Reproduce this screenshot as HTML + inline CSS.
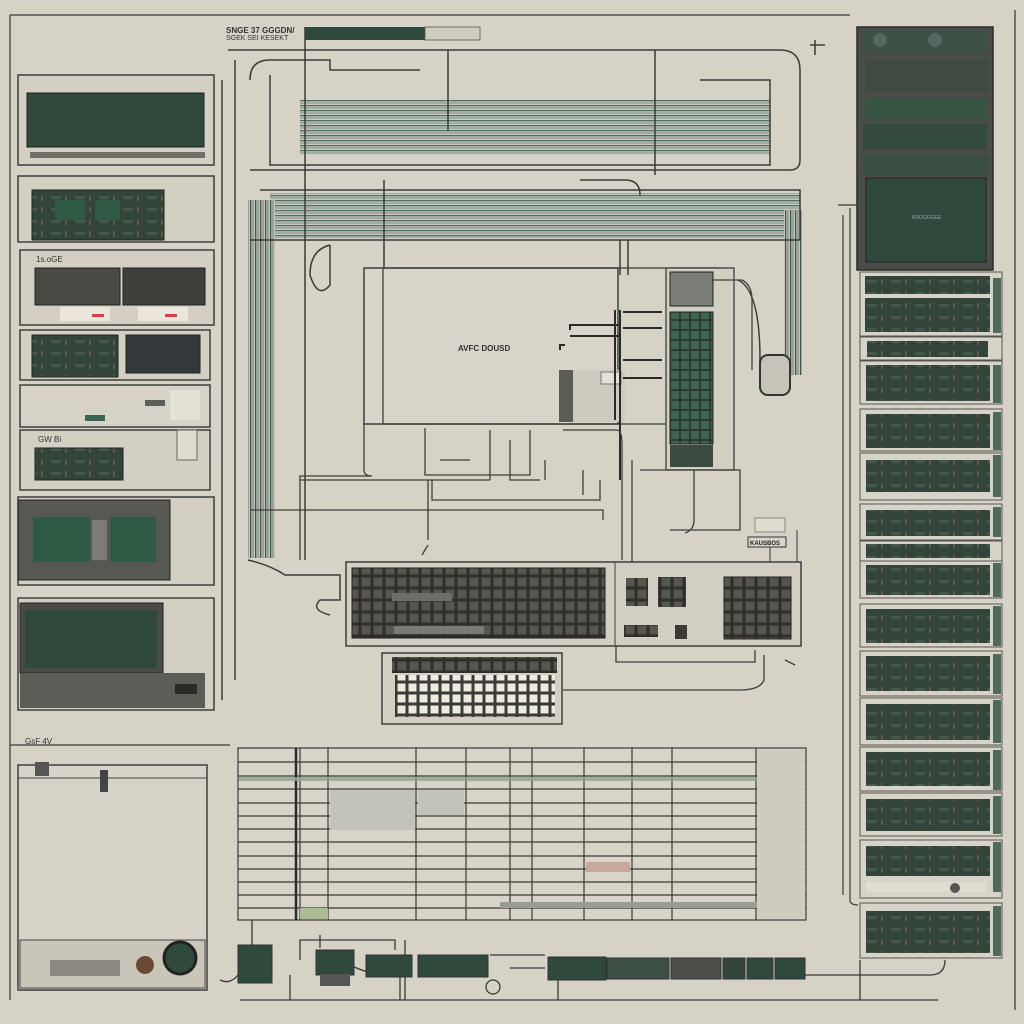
<!DOCTYPE html>
<html><head><style>
html,body{margin:0;padding:0;background:#d6d2c6;}
svg{display:block}
text{font-family:"Liberation Sans",sans-serif;}
</style></head><body>
<svg width="1024" height="1024" viewBox="0 0 1024 1024" xmlns="http://www.w3.org/2000/svg">
<defs>
<pattern id="keys" width="12" height="12" patternUnits="userSpaceOnUse"><rect width="12" height="12" fill="#2e2f2b"/><rect x="1.5" y="1.5" width="9" height="9" fill="#56564f"/></pattern>
<pattern id="keysw" width="11" height="11" patternUnits="userSpaceOnUse"><rect width="11" height="11" fill="#3a3a36"/><rect x="1.5" y="1.5" width="8" height="8" fill="#eeeae0"/></pattern>
<pattern id="gk" width="10" height="10" patternUnits="userSpaceOnUse"><rect width="10" height="10" fill="#2d3a32"/><rect x="1" y="1" width="8" height="8" fill="#3f6550"/></pattern>
<pattern id="stripes" width="6" height="5" patternUnits="userSpaceOnUse"><rect width="6" height="5" fill="#c9cbbf"/><rect y="0" width="6" height="1.3" fill="#4f6f62"/><rect y="2.5" width="6" height="1" fill="#7d8b83"/></pattern>
<pattern id="vstripes" width="5" height="6" patternUnits="userSpaceOnUse"><rect width="5" height="6" fill="#c5c7bb"/><rect x="0" width="1.3" height="6" fill="#3f5549"/><rect x="2.5" width="1" height="6" fill="#6c7c72"/></pattern>
<pattern id="circ" width="24" height="12" patternUnits="userSpaceOnUse"><rect width="24" height="12" fill="#33453b"/><rect x="3" y="4" width="10" height="3" fill="#46584d"/><rect x="17" y="3" width="2" height="6" fill="#5e5544"/></pattern>
</defs>

<path d="M10 15 H850 M10 15 V1000 M1015 10 V1010 M10 745 H230" stroke="#55554f" stroke-width="1.5" fill="none"/>

<text x="226" y="33" font-size="8" fill="#333" font-weight="bold">SNGE 37 GGGDN/</text>
<text x="226" y="40" font-size="7" fill="#333">SGEK SEI KESEKT</text>
<rect x="305" y="27" width="120" height="13" fill="#2f4a3c"/>
<rect x="425" y="27" width="55" height="13" fill="#d0ccbf" stroke="#555" stroke-width="0.8"/>

<rect x="300" y="100" width="470" height="55" fill="url(#stripes)"/>
<rect x="270" y="193" width="530" height="45" fill="url(#stripes)"/>
<rect x="248" y="200" width="27" height="358" fill="url(#vstripes)"/>
<rect x="784" y="210" width="18" height="165" fill="url(#vstripes)"/>
<g stroke="#3b3b37" stroke-width="1.5" fill="none">
<path d="M228 50 H780 Q800 50 800 70 V160 Q800 170 790 170 H250"/>
<path d="M235 60 V680 M222 80 V700"/>
<path d="M250 80 Q250 60 270 60 H330 V70 H420"/>
<path d="M270 75 V165 H770 V80 H700"/>
<path d="M305 27 V560 M448 50 V130 M655 50 V175 M384 180 V270"/>
<path d="M260 190 H800 V240 H250"/>
<path d="M330 245 Q310 250 310 275 Q318 300 330 285 V245"/>
<path d="M620 240 V275 M628 240 V275"/>
<path d="M580 180 H625 Q640 180 640 195"/>
<path d="M738 280 Q760 290 760 360 V380 Q780 400 790 380 V360"/>
<path d="M248 560 Q270 565 285 575 H340 V600 H320 Q310 610 330 615"/>
<path d="M810 45 H825 M815 40 V55"/>
</g>

<rect x="18" y="75" width="196" height="90" fill="#d3cfc3" stroke="#3e3e3a" stroke-width="1.5"/>
<rect x="27" y="93" width="177" height="54" fill="#2f4a3c" stroke="#222" stroke-width="1"/>
<rect x="30" y="152" width="175" height="6" fill="#6e6e66"/>

<rect x="18" y="176" width="196" height="66" fill="#d3cfc3" stroke="#3e3e3a" stroke-width="1.5"/>
<rect x="32" y="190" width="132" height="50" fill="url(#circ)" stroke="#222"/>
<rect x="55" y="200" width="30" height="20" fill="#2f5a44"/><rect x="95" y="200" width="25" height="20" fill="#2f5a44"/>

<rect x="20" y="250" width="194" height="75" fill="#d3cfc3" stroke="#3e3e3a" stroke-width="1.5"/>
<rect x="35" y="268" width="85" height="37" fill="#4a4a44" stroke="#222"/>
<rect x="123" y="268" width="82" height="37" fill="#3e403b" stroke="#222"/>
<rect x="60" y="307" width="50" height="14" fill="#ebe6db"/><rect x="138" y="307" width="50" height="14" fill="#ebe6db"/>
<rect x="92" y="314" width="12" height="3" fill="#c44"/><rect x="165" y="314" width="12" height="3" fill="#c44"/>
<text x="36" y="262" font-size="8" fill="#333">1s.oGE</text>

<rect x="20" y="330" width="190" height="50" fill="#d3cfc3" stroke="#3e3e3a" stroke-width="1.5"/>
<rect x="32" y="335" width="86" height="42" fill="url(#circ)" stroke="#222"/>
<rect x="126" y="335" width="74" height="38" fill="#33393a" stroke="#222"/>

<rect x="20" y="385" width="190" height="42" fill="#d7d3c8" stroke="#3e3e3a" stroke-width="1.5"/>
<rect x="85" y="415" width="20" height="6" fill="#3d6452"/><rect x="145" y="400" width="20" height="6" fill="#5a5f5a"/><rect x="170" y="390" width="30" height="30" fill="#e3e0d4"/>

<rect x="20" y="430" width="190" height="60" fill="#d3cfc3" stroke="#3e3e3a" stroke-width="1.5"/>
<rect x="35" y="448" width="88" height="32" fill="url(#circ)" stroke="#222"/>
<rect x="177" y="430" width="20" height="30" fill="#e0dccf" stroke="#666"/>
<text x="38" y="442" font-size="8" fill="#333">GW  Bi</text>

<rect x="18" y="497" width="196" height="88" fill="#d3cfc3" stroke="#3e3e3a" stroke-width="1.5"/>
<rect x="18" y="500" width="152" height="80" fill="#575852" stroke="#222"/>
<rect x="33" y="517" width="57" height="45" fill="#2f5a44"/><rect x="110" y="517" width="46" height="45" fill="#2f5a44"/>
<rect x="92" y="520" width="15" height="40" fill="#7b7c75"/>

<rect x="18" y="598" width="196" height="112" fill="#d3cfc3" stroke="#3e3e3a" stroke-width="1.5"/>
<rect x="20" y="603" width="143" height="70" fill="#4a4b46" stroke="#222"/>
<rect x="25" y="610" width="132" height="58" fill="#2f4a3c"/>
<rect x="20" y="673" width="185" height="35" fill="#5c5d57"/>
<rect x="175" y="684" width="22" height="10" fill="#2a2a27"/>
<text x="25" y="744" font-size="8" fill="#333">GsF 4V</text>

<rect x="18" y="765" width="189" height="225" fill="#d7d3c8" stroke="#3e3e3a" stroke-width="1.5"/>
<path d="M18 778 H207" stroke="#444" stroke-width="1"/>
<rect x="35" y="762" width="14" height="14" fill="#555"/><rect x="100" y="770" width="8" height="22" fill="#444"/>
<rect x="20" y="940" width="185" height="48" fill="#c9c5b9" stroke="#444"/>
<circle cx="180" cy="958" r="16" fill="#2f4a3c" stroke="#222" stroke-width="3"/>
<circle cx="145" cy="965" r="9" fill="#6a4a35"/>
<rect x="50" y="960" width="70" height="16" fill="#8a8a82"/>

<rect x="364" y="268" width="254" height="156" fill="#d8d4c9" stroke="#3e3e3a" stroke-width="1.5"/>
<rect x="383" y="268" width="340" height="156" fill="none" stroke="#3e3e3a" stroke-width="1.3"/>
<text x="458" y="351" font-size="8" fill="#333" font-weight="bold">AVFC  DOUSD</text>
<rect x="559" y="370" width="14" height="52" fill="#5b5c56"/>
<rect x="573" y="370" width="52" height="52" fill="#cecabf"/>
<rect x="601" y="372" width="20" height="12" fill="#e4e0d5" stroke="#777"/>
<g stroke="#2a2a27" stroke-width="2" fill="none">
<path d="M570 330 V325 H620 M570 336 H620 M565 345 H560 V350"/>
<path d="M615 310 V420 M620 310 V480"/>
<path d="M623 312 H662 M623 328 H662 M623 360 H662 M623 378 H662"/>
</g>
<g stroke="#3e3e3a" stroke-width="1.3" fill="none">
<path d="M364 424 V470 Q364 476 372 476 H300 V560 M300 480 H490"/>
<path d="M425 428 V475 H530 V430 M440 460 H470 M490 430 V480 M510 440 V480 H540 M545 460 V480"/>
<path d="M563 430 H617 Q622 430 622 445 V560 M632 460 V565"/>
<path d="M432 480 V500 H600 V480"/>
<path d="M250 510 H603 V520"/>
<path d="M428 480 V540 M428 545 L422 555"/>
<path d="M583 470 V495"/>
</g>

<rect x="666" y="268" width="68" height="202" fill="#d2cec2" stroke="#3e3e3a" stroke-width="1.3"/>
<rect x="670" y="272" width="43" height="34" fill="#7b7d76" stroke="#222"/>
<rect x="670" y="312" width="43" height="132" fill="url(#gk)" stroke="#222"/>
<rect x="670" y="445" width="43" height="22" fill="#3d4a40"/>
<g stroke="#3e3e3a" stroke-width="1.3" fill="none"><path d="M712 280 H742 Q752 285 752 300 V370 M694 470 V520 Q694 530 685 533"/><path d="M640 470 H740 V530 H670"/></g>
<rect x="760" y="355" width="30" height="40" rx="8" fill="#c6c4b8" stroke="#333" stroke-width="2"/>
<rect x="748" y="537" width="38" height="10" fill="#d8d4c8" stroke="#333"/><text x="750" y="545" font-size="6" fill="#222" font-weight="bold">KAUSBOS</text>
<rect x="755" y="518" width="30" height="14" fill="#e0dcd0" stroke="#888"/>
<path d="M770 547 V562 M797 530 V562" stroke="#333"/>

<rect x="346" y="562" width="455" height="84" fill="#d3cfc3" stroke="#3e3e3a" stroke-width="1.5"/>
<path d="M615 562 V646" stroke="#3e3e3a"/>
<rect x="352" y="568" width="253" height="70" fill="url(#keys)" stroke="#222"/>
<rect x="392" y="593" width="60" height="8" fill="#6e6e66"/>
<rect x="394" y="626" width="90" height="8" fill="#7a7a72"/>
<rect x="626" y="578" width="22" height="28" fill="url(#keys)"/>
<rect x="658" y="577" width="28" height="30" fill="url(#keys)"/>
<rect x="624" y="625" width="34" height="12" fill="url(#keys)"/>
<rect x="675" y="625" width="12" height="14" fill="#3a3a36"/>
<rect x="724" y="577" width="67" height="62" fill="url(#keys)" stroke="#222"/>
<g stroke="#3e3e3a" stroke-width="1.3" fill="none"><path d="M616 646 V662 H755 V650 M764 655 V680 Q760 690 740 690 H563 M795 665 L785 660"/></g>

<rect x="382" y="653" width="180" height="71" fill="#d3cfc3" stroke="#3e3e3a" stroke-width="1.5"/>
<rect x="392" y="657" width="165" height="16" fill="url(#keys)"/>
<rect x="395" y="675" width="160" height="42" fill="url(#keysw)"/>

<g stroke="#3a3a36" stroke-width="1.2" fill="none">
<rect x="238" y="748" width="568" height="172" fill="#d8d4c9"/>
<path d="M238 762 H806 M238 776 H806 M238 789 H806 M238 803 H806 M238 816 H806 M238 829 H806 M238 842 H806 M238 856 H806 M238 869 H806 M238 882 H806 M238 895 H806 M238 908 H806"/>
<path d="M296 748 V920 M300 748 V920 M328 748 V920 M416 748 V920 M466 748 V920 M510 748 V920 M532 748 V920 M584 748 V920 M632 748 V920 M672 748 V920 M756 748 V920"/>
</g>
<path d="M296 748 V920" stroke="#2a2a27" stroke-width="2.5"/>
<rect x="239" y="777" width="566" height="4" fill="#8fa58f" opacity="0.8"/>
<rect x="330" y="790" width="85" height="40" fill="#c3c3bb"/>
<rect x="418" y="790" width="46" height="25" fill="#c3c3bb"/>
<rect x="586" y="862" width="44" height="10" fill="#c8a89a"/>
<rect x="500" y="902" width="300" height="6" fill="#9a9c95"/>
<rect x="300" y="908" width="28" height="11" fill="#a9bc96"/>
<rect x="757" y="750" width="48" height="168" fill="#cfcbbf"/>

<g stroke="#3a3a36" stroke-width="1.3" fill="none">
<path d="M252 920 V945 M240 1000 H938 M238 975 Q230 985 220 980 M290 975 V1000 M300 960 V940 H395 V950 M320 948 V935 M400 975 V1000 M405 940 V1000 M350 965 Q380 980 400 970 M490 955 H545 M510 968 H545 M558 975 V1000 M805 975 H930 Q945 975 945 960 M860 960 V1000"/>
<circle cx="493" cy="987" r="7"/>
</g>
<rect x="238" y="945" width="34" height="38" fill="#2f4a3c" stroke="#333"/>
<rect x="316" y="950" width="38" height="25" fill="#2f4a3c" stroke="#333"/>
<rect x="320" y="974" width="30" height="12" fill="#555"/>
<rect x="366" y="955" width="46" height="22" fill="#2f4a3c" stroke="#333"/>
<rect x="418" y="955" width="70" height="22" fill="#2f4a3c" stroke="#333"/>
<rect x="548" y="957" width="58" height="23" fill="#2f4a3c" stroke="#333"/>
<rect x="607" y="958" width="62" height="21" fill="#3d4f45" stroke="#333"/>
<rect x="671" y="958" width="50" height="21" fill="#4c4f48" stroke="#333"/>
<rect x="723" y="958" width="22" height="21" fill="#34463c" stroke="#333"/>
<rect x="747" y="958" width="26" height="21" fill="#2f4a3c" stroke="#333"/>
<rect x="775" y="958" width="30" height="21" fill="#2f4a3c" stroke="#333"/>

<g stroke="#3a3a36" stroke-width="1.2" fill="none"><path d="M850 208 V900 Q850 905 858 905 M843 215 V895 M838 205 H857"/></g>
<rect x="857" y="27" width="136" height="243" fill="#4a4c47" stroke="#2a2a27" stroke-width="1.5"/>
<rect x="863" y="30" width="124" height="24" fill="#3d5046"/>
<circle cx="880" cy="40" r="7" fill="#55675f"/><circle cx="935" cy="40" r="7" fill="#55675f"/>
<rect x="866" y="60" width="122" height="32" fill="#3f4a42"/>
<rect x="865" y="98" width="122" height="22" fill="#365442"/>
<rect x="863" y="124" width="124" height="26" fill="#334a3d"/>
<rect x="863" y="155" width="126" height="20" fill="#3a4d43"/>
<rect x="866" y="178" width="120" height="84" fill="#2f4a3c" stroke="#222"/>
<text x="912" y="219" font-size="5" fill="#8aa">KROGGGEE</text>

<g fill="#d7d3c8" stroke="#55554f" stroke-width="1">
<rect x="860" y="272" width="142" height="64"/>
<rect x="860" y="337" width="142" height="23"/>
<rect x="860" y="361" width="142" height="43"/>
<rect x="860" y="409" width="142" height="42"/>
<rect x="860" y="453" width="142" height="47"/>
<rect x="860" y="504" width="142" height="36"/>
<rect x="860" y="541" width="142" height="20"/>
<rect x="860" y="561" width="142" height="37"/>
<rect x="860" y="604" width="142" height="43"/>
<rect x="860" y="651" width="142" height="45"/>
<rect x="860" y="698" width="142" height="47"/>
<rect x="860" y="747" width="142" height="44"/>
<rect x="860" y="793" width="142" height="43"/>
<rect x="860" y="840" width="142" height="58"/>
<rect x="860" y="903" width="142" height="55"/>
</g>
<g fill="url(#circ)">
<rect x="865" y="276" width="125" height="18"/>
<rect x="865" y="298" width="125" height="34"/>
<rect x="867" y="341" width="121" height="16"/>
<rect x="866" y="365" width="124" height="36"/>
<rect x="866" y="414" width="124" height="34"/>
<rect x="866" y="460" width="124" height="32"/>
<rect x="866" y="510" width="124" height="26"/>
<rect x="866" y="544" width="124" height="14"/>
<rect x="866" y="565" width="124" height="30"/>
<rect x="866" y="609" width="124" height="34"/>
<rect x="866" y="656" width="124" height="35"/>
<rect x="866" y="704" width="124" height="36"/>
<rect x="866" y="752" width="124" height="34"/>
<rect x="866" y="799" width="124" height="32"/>
<rect x="866" y="846" width="124" height="30"/>
<rect x="866" y="911" width="124" height="42"/>
</g>
<rect x="866" y="882" width="120" height="10" fill="#e0dcd0"/>
<circle cx="955" cy="888" r="5" fill="#555"/>
<g fill="#4f6a5a"><rect x="993" y="278" width="8" height="55"/><rect x="993" y="365" width="8" height="38"/><rect x="993" y="412" width="8" height="38"/><rect x="993" y="455" width="8" height="42"/><rect x="993" y="507" width="8" height="30"/><rect x="993" y="563" width="8" height="34"/><rect x="993" y="606" width="8" height="40"/><rect x="993" y="654" width="8" height="40"/><rect x="993" y="700" width="8" height="43"/><rect x="993" y="750" width="8" height="40"/><rect x="993" y="796" width="8" height="38"/><rect x="993" y="842" width="8" height="50"/><rect x="993" y="906" width="8" height="50"/></g>
</svg>
</body></html>
